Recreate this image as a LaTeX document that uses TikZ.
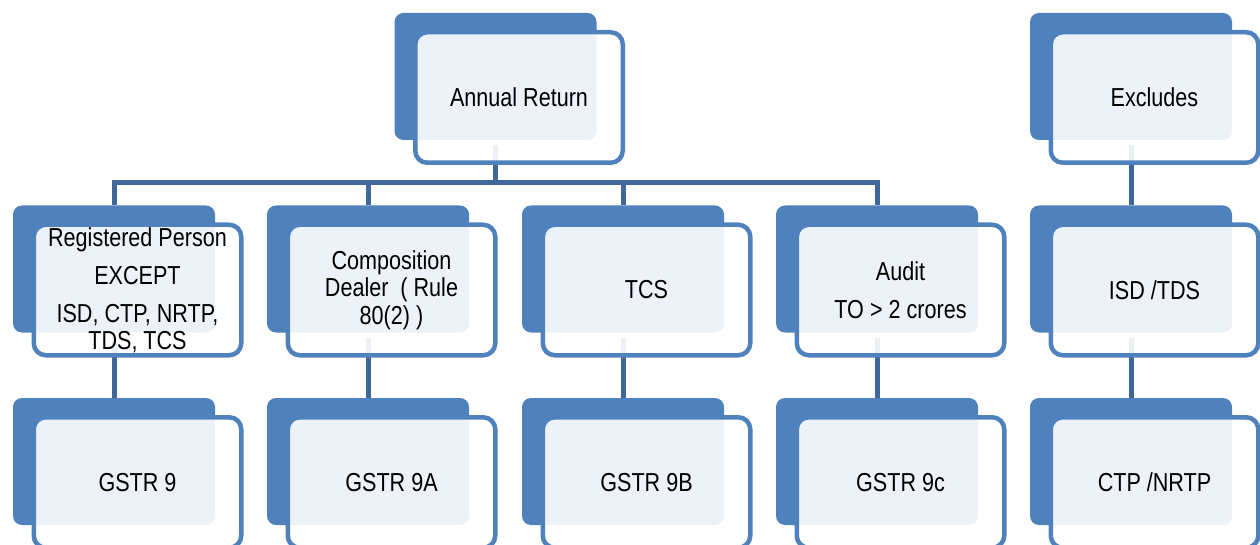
\documentclass[tikz,border=0pt]{standalone}
\usepackage{fontspec}
\setmainfont[FakeStretch=0.83]{Liberation Sans}
\pgfdeclarelayer{background}
\pgfsetlayers{background,main}
\definecolor{boxblue}{RGB}{79,129,189}
\definecolor{linkblue}{RGB}{64,103,153}
\tikzset{
  backbox/.style={fill=boxblue, rounded corners=9pt, minimum width=202pt,
    minimum height=127pt, inner sep=0pt},
  frontbox/.style={draw=boxblue, line width=4.5pt, fill=white, fill opacity=0.9,
    text opacity=1, rounded corners=12pt, minimum width=207.5pt,
    minimum height=130.5pt, inner sep=0pt, align=center,
    font=\fontsize{26}{27.5}\selectfont},
  link/.style={draw=linkblue, line width=5pt},
}
% a solid back card with a lighter framed card laid over it, offset down-right
\newcommand\stackedbox[4]{%
  \node[backbox] (#1b) at (#2,#3) {};
  \node[frontbox] (#1) at ([xshift=23.5pt,yshift=-21pt]#1b.center) {#4};
}
\begin{document}
\begin{tikzpicture}[x=1pt,y=-1pt]
\useasboundingbox (0,0) rectangle (1260,545);

% top level
\stackedbox{ar}{495.5}{76.5}{Annual Return}
\stackedbox{ex}{1131}{76.5}{Excludes}

% second row
\stackedbox{rp}{114}{269}{Registered Person\\[11pt]EXCEPT\\[10pt]ISD, CTP, NRTP,\\TDS, TCS}
\stackedbox{cd}{368}{269}{Composition\\Dealer\ \ ( Rule\\80(2) )}
\stackedbox{tc}{623}{269}{TCS}
\stackedbox{au}{877}{269}{Audit\\[10pt]TO > 2 crores}
\stackedbox{it}{1131}{269}{ISD /TDS}

% third row
\stackedbox{g9}{114}{461.5}{GSTR 9}
\stackedbox{ga}{368}{461.5}{GSTR 9A}
\stackedbox{gb}{623}{461.5}{GSTR 9B}
\stackedbox{gc}{877}{461.5}{GSTR 9c}
\stackedbox{cn}{1131}{461.5}{CTP /NRTP}

\coordinate (hub) at (495.5,183);

\begin{pgfonlayer}{background}
  \draw[link] ([yshift=-5pt]arb.south) -- (hub);
  \draw[link] (hub) -| (rpb.north);
  \draw[link] (hub) -| (cdb.north);
  \draw[link] (hub) -| (tcb.north);
  \draw[link] (hub) -| (aub.north);
  \draw[link] ([yshift=-5pt]rpb.south) -- (g9b.north);
  \draw[link] ([yshift=-5pt]cdb.south) -- (gab.north);
  \draw[link] ([yshift=-5pt]tcb.south) -- (gbb.north);
  \draw[link] ([yshift=-5pt]aub.south) -- (gcb.north);
  \draw[link] ([yshift=-5pt]exb.south) -- (itb.north);
  \draw[link] ([yshift=-5pt]itb.south) -- (cnb.north);
\end{pgfonlayer}
\end{tikzpicture}
\end{document}
